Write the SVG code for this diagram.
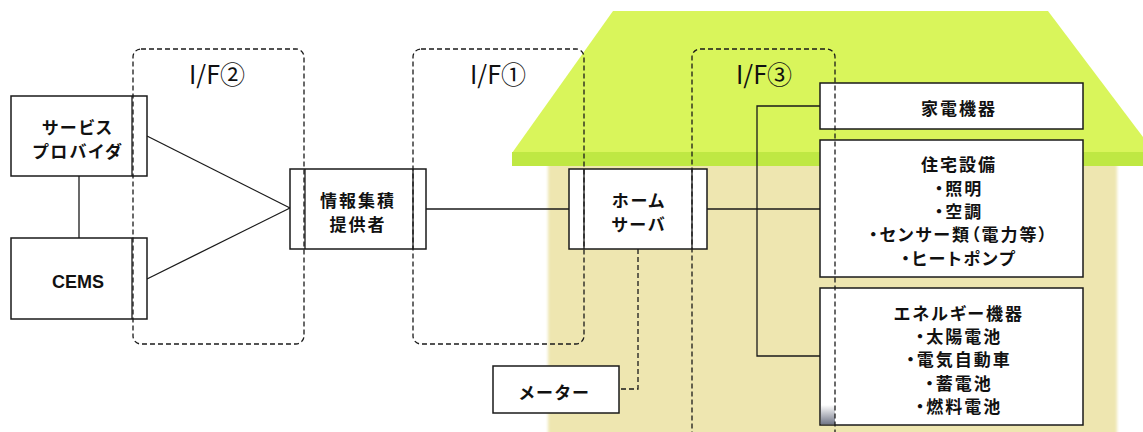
<svg xmlns="http://www.w3.org/2000/svg" width="1143" height="432" viewBox="0 0 1143 432">
  <style>
    .box { fill: #ffffff; stroke: #1a1a1a; stroke-width: 1.5; }
    .div { stroke: #1a1a1a; stroke-width: 1.3; fill: none; }
    .wire { stroke: #1a1a1a; stroke-width: 1.3; fill: none; }
    .dash { stroke: #1a1a1a; stroke-width: 1.3; fill: none; stroke-dasharray: 5 3; }
    .lbl { font-family: "Noto Sans CJK JP", "Noto Sans", sans-serif; font-weight: 700; font-size: 17px; fill: #111; text-anchor: middle; dominant-baseline: central; letter-spacing: 2px; font-feature-settings: "palt"; }
    .lat { font-family: "Liberation Sans", "Noto Sans CJK JP", sans-serif; font-weight: 700; font-size: 18px; fill: #111; text-anchor: middle; dominant-baseline: central; }
    .if { font-family: "Noto Sans CJK JP", "Noto Sans", sans-serif; font-weight: 400; font-size: 25px; fill: #111; text-anchor: middle; dominant-baseline: central; }
  </style>
  <defs>
    <filter id="soft" x="-5%" y="-5%" width="110%" height="110%">
      <feGaussianBlur stdDeviation="1.5"/>
    </filter>
    <linearGradient id="strip" x1="0" y1="0" x2="0" y2="1">
      <stop offset="0" stop-color="#ffffff"/>
      <stop offset="1" stop-color="#737889"/>
    </linearGradient>
  </defs>

  <rect width="1143" height="432" fill="#ffffff"/>

  <!-- house -->
  <g id="house">
    <rect x="548" y="160" width="569" height="280" fill="#eee6b0" filter="url(#soft)"/>
    <polygon points="613,11 1048,11 1143,137 1143,166 512,166 512,153" fill="#d9f55b"/>
    <rect x="512" y="152" width="631" height="14" fill="#bfe843"/>
  </g>

  <!-- connectors -->
  <g id="connectors">
    <line class="wire" x1="79" y1="176" x2="79" y2="238"/>
    <line class="wire" x1="147" y1="136" x2="290" y2="208"/>
    <line class="wire" x1="147" y1="279" x2="290" y2="208"/>
    <line class="wire" x1="426" y1="209" x2="569" y2="209"/>
    <line class="wire" x1="707" y1="209" x2="820" y2="209" stroke-width="2"/>
    <polyline class="wire" points="820,106 757,106 757,356 820,356"/>
    <polyline class="dash" points="638,249 638,389 619,389"/>
  </g>

  <!-- nodes -->
  <g id="service-provider">
    <rect class="box" x="11" y="96" width="136" height="80"/>
    <line class="div" x1="132" y1="96" x2="132" y2="176"/>
    <text class="lbl" x="78" y="126">サービス</text>
    <text class="lbl" x="78" y="150">プロバイダ</text>
  </g>
  <g id="cems">
    <rect class="box" x="11" y="238" width="136" height="81"/>
    <line class="div" x1="132" y1="238" x2="132" y2="319"/>
    <text class="lat" x="78" y="282">CEMS</text>
  </g>
  <g id="aggregator">
    <rect class="box" x="290" y="169" width="136" height="80"/>
    <line class="div" x1="305" y1="169" x2="305" y2="249"/>
    <line class="div" x1="413" y1="169" x2="413" y2="249"/>
    <text class="lbl" x="358" y="199">情報集積</text>
    <text class="lbl" x="358" y="223">提供者</text>
  </g>
  <g id="home-server">
    <rect class="box" x="569" y="169" width="138" height="80"/>
    <line class="div" x1="584" y1="169" x2="584" y2="249"/>
    <line class="div" x1="692" y1="169" x2="692" y2="249"/>
    <text class="lbl" x="639" y="199">ホーム</text>
    <text class="lbl" x="639" y="223">サーバ</text>
  </g>
  <g id="meter">
    <rect class="box" x="493" y="366" width="126" height="47"/>
    <text class="lbl" x="555" y="391">メーター</text>
  </g>
  <g id="appliances">
    <rect class="box" x="820" y="83" width="263" height="46"/>
    <text class="lbl" x="959" y="107">家電機器</text>
  </g>
  <g id="housing-equipment">
    <rect class="box" x="820" y="140" width="263" height="137"/>
    <text class="lbl" x="959" y="163">住宅設備</text>
    <text class="lbl" x="959" y="187">・照明</text>
    <text class="lbl" x="959" y="210">・空調</text>
    <text class="lbl" x="959" y="233">・センサー類（電力等）</text>
    <text class="lbl" x="959" y="257">・ヒートポンプ</text>
  </g>
  <g id="energy-equipment">
    <rect class="box" x="820" y="288" width="263" height="137"/>
    <rect x="821" y="405" width="14" height="19" fill="url(#strip)"/>
    <text class="lbl" x="959" y="312">エネルギー機器</text>
    <text class="lbl" x="959" y="335">・太陽電池</text>
    <text class="lbl" x="959" y="358">・電気自動車</text>
    <text class="lbl" x="959" y="382">・蓄電池</text>
    <text class="lbl" x="959" y="405">・燃料電池</text>
  </g>

  <!-- interface boundaries -->
  <g id="if2">
    <rect class="dash" x="133" y="49" width="171" height="295" rx="8"/>
    <text class="if" x="217" y="73">I/F②</text>
  </g>
  <g id="if1">
    <rect class="dash" x="413" y="49" width="171" height="295" rx="8"/>
    <text class="if" x="498" y="73">I/F①</text>
  </g>
  <g id="if3">
    <rect class="dash" x="692" y="49" width="143" height="400" rx="8"/>
    <text class="if" x="764" y="73">I/F③</text>
  </g>
</svg>
